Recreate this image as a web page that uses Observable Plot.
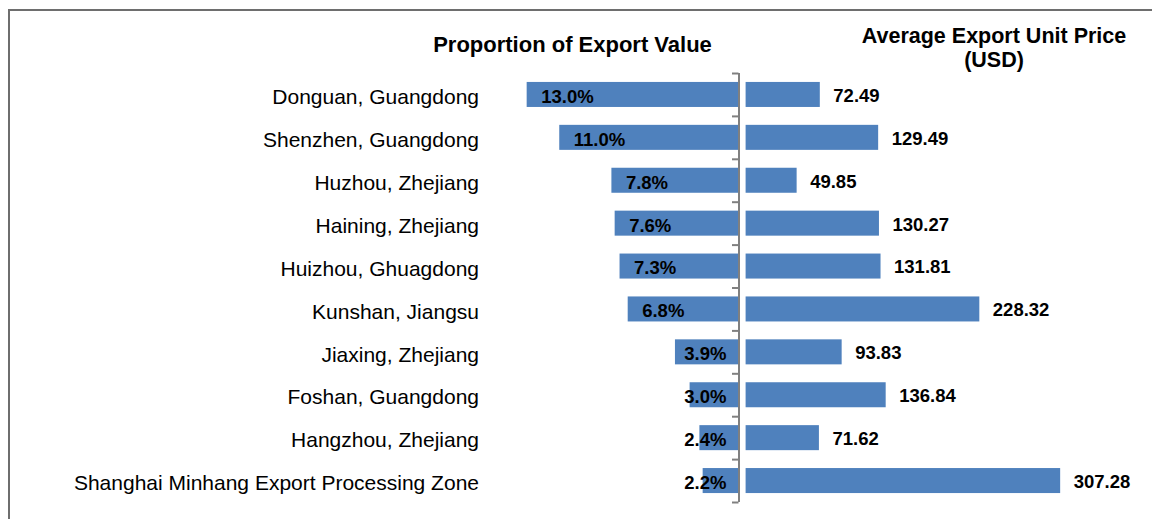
<!DOCTYPE html>
<html>
<head>
<meta charset="utf-8">
<script src="https://cdn.jsdelivr.net/npm/d3@7"></script>
<script src="https://cdn.jsdelivr.net/npm/@observablehq/plot@0.6"></script>
<style>
  body { margin: 0; background: #fff; }
  #wrap { position: relative; width: 1152px; height: 519px; overflow: hidden; font-family: "Liberation Sans", Arial, sans-serif; background: #fff; }
  #frame { position: absolute; left: 8px; top: 9px; width: 1144px; height: 510px; border-top: 2px solid #6e6e6e; border-left: 2px solid #6e6e6e; box-sizing: border-box; }
  #charts { position: absolute; left: 0; top: 0; display: flex; }
  #titles { position: absolute; left: 0; top: 0; pointer-events: none; }
</style>
</head>
<body>
<div id="wrap">
  <div id="frame"></div>
  <div id="charts"></div>
  <svg id="titles" width="1152" height="519" font-family='"Liberation Sans", Arial, sans-serif' font-weight="bold" fill="#000">
    <text x="572.5" y="51.7" text-anchor="middle" font-size="22">Proportion of Export Value</text>
    <text x="994" y="42.5" text-anchor="middle" font-size="21.5">Average Export Unit Price</text>
    <text x="994" y="66.7" text-anchor="middle" font-size="21.5">(USD)</text>
  </svg>
</div>
<script>
const cities = [
  "Donguan, Guangdong",
  "Shenzhen, Guangdong",
  "Huzhou, Zhejiang",
  "Haining, Zhejiang",
  "Huizhou, Ghuagdong",
  "Kunshan, Jiangsu",
  "Jiaxing, Zhejiang",
  "Foshan, Guangdong",
  "Hangzhou, Zhejiang",
  "Shanghai Minhang Export Processing Zone"
];
const shares = [13.0, 11.0, 7.8, 7.6, 7.3, 6.8, 3.9, 3.0, 2.4, 2.2];
const prices = [72.49, 129.49, 49.85, 130.27, 131.81, 228.32, 93.83, 136.84, 71.62, 307.28];

const rows = cities.map((c, i) => ({city: c, share: shares[i], price: prices[i]}));

const FONT = '"Liberation Sans", Arial, sans-serif';
const BLUE = "#4f81bd";
const GRAY = "#808080";
const H = 519, MT = 73, MB = 17;
const halfStep = (H - MT - MB) / cities.length / 2;
const yOpts = {domain: cities, paddingInner: 0.417, paddingOuter: 0.2085, round: false, axis: null};
const fmtPct = d => d.share.toFixed(1) + "%";

const left = Plot.plot({
  width: 745, height: H,
  marginLeft: 490, marginRight: 6.5, marginTop: MT, marginBottom: MB,
  style: {fontFamily: FONT, background: "transparent", overflow: "visible"},
  x: {domain: [15.25, 0], axis: null},
  y: yOpts,
  marks: [
    Plot.barX(rows, {x: "share", y: "city", fill: BLUE}),
    Plot.ruleX([0], {stroke: GRAY, strokeWidth: 2}),
    Plot.ruleY(cities, {y: d => d, x1: 0, x2: 0.4, dy: -halfStep, stroke: GRAY, strokeWidth: 2}),
    Plot.ruleY(cities.slice(-1), {y: d => d, x1: 0, x2: 0.4, dy: halfStep, stroke: GRAY, strokeWidth: 2}),
    Plot.text(rows, {y: "city", text: "city", frameAnchor: "left", textAnchor: "end", dx: -11.5, dy: 2.5, fontSize: 21, fill: "#000"}),
    Plot.text(rows.filter(d => d.share >= 4), {x: "share", y: "city", text: fmtPct, textAnchor: "start", dx: 14, dy: 2, fontSize: 18.5, fontWeight: "bold", fill: "#000"}),
    Plot.text(rows.filter(d => d.share < 4), {x: 0, y: "city", text: fmtPct, textAnchor: "end", dx: -12.5, dy: 2, fontSize: 18.5, fontWeight: "bold", fill: "#000"})
  ]
});

const right = Plot.plot({
  width: 407, height: H,
  marginLeft: 0.6, marginRight: 0, marginTop: MT, marginBottom: MB,
  style: {fontFamily: FONT, background: "transparent", overflow: "visible"},
  x: {domain: [0, 397], axis: null},
  y: yOpts,
  marks: [
    Plot.barX(rows, {x: "price", y: "city", fill: BLUE}),
    Plot.text(rows, {x: "price", y: "city", text: d => d.price.toFixed(2), textAnchor: "start", dx: 13, dy: 1, fontSize: 18.5, fontWeight: "bold", fill: "#000"})
  ]
});

const charts = document.getElementById("charts");
charts.appendChild(left);
charts.appendChild(right);
</script>
</body>
</html>
